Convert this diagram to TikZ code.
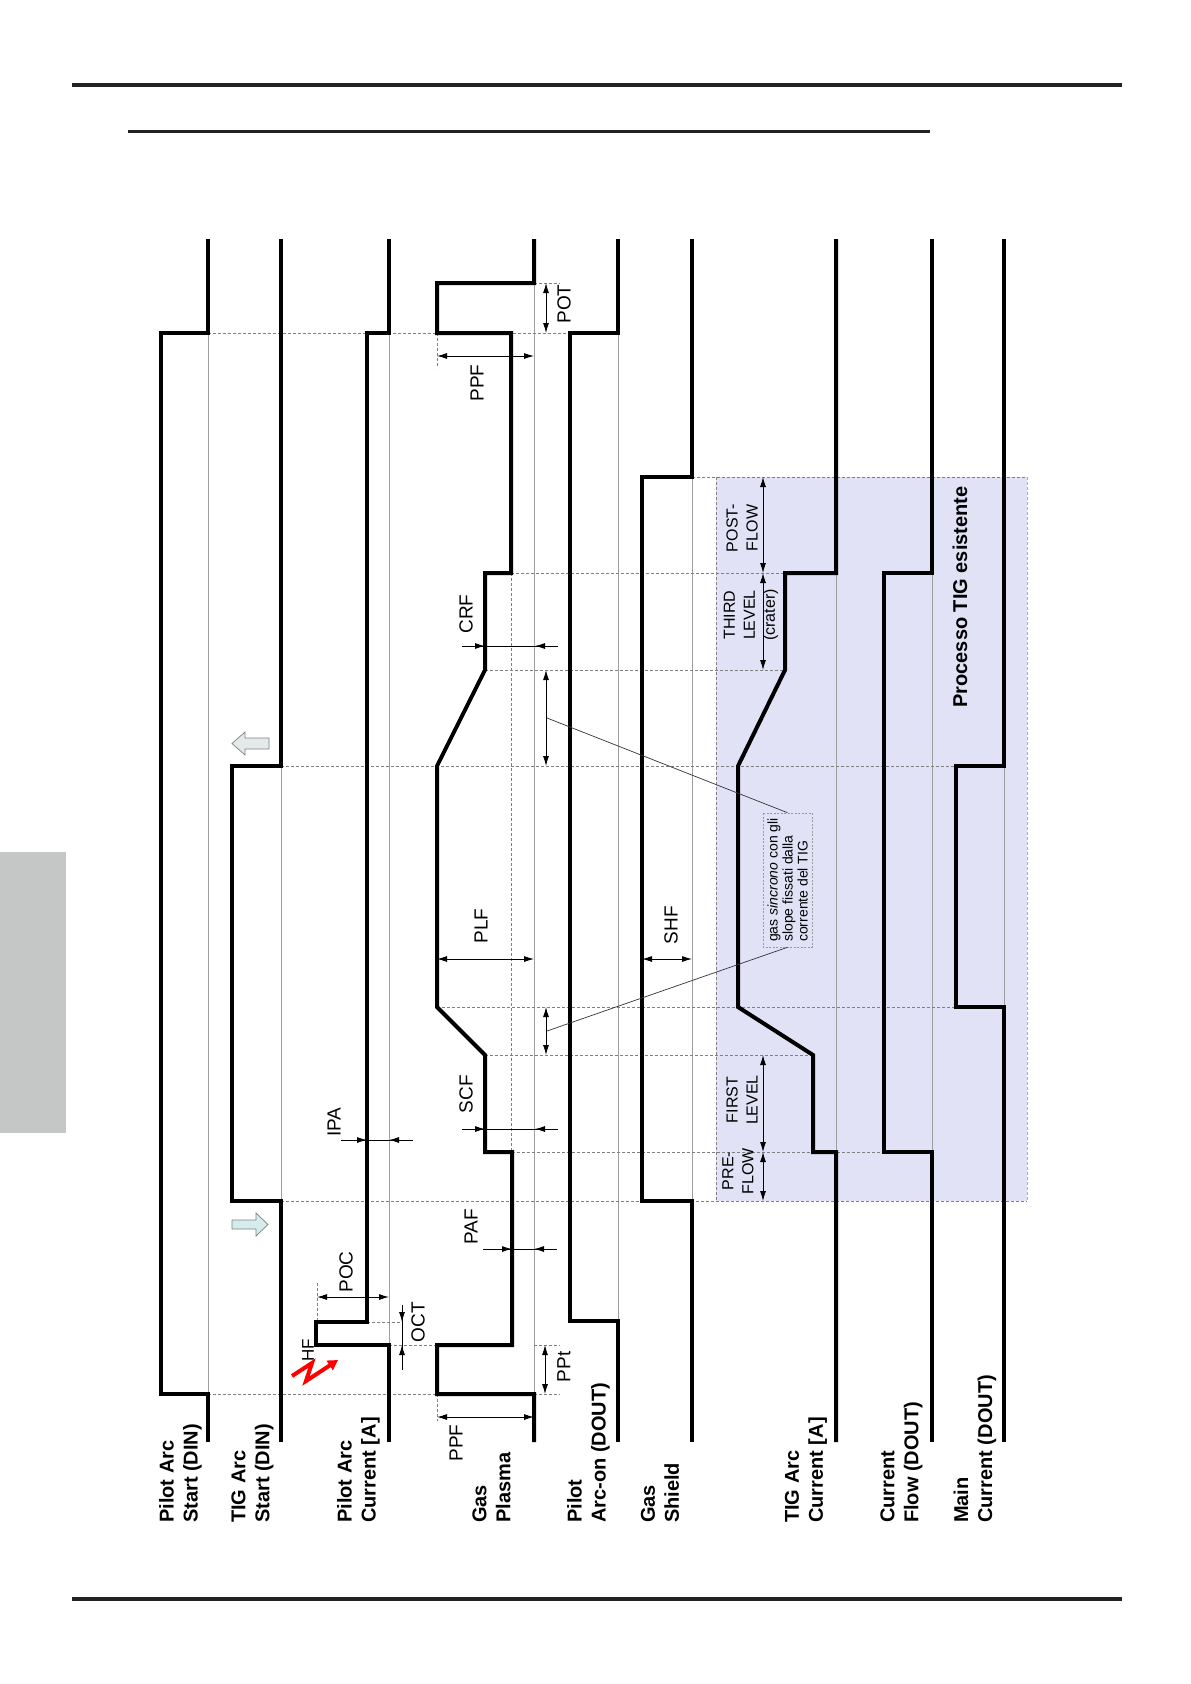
\documentclass[tikz,border=0pt]{standalone}
\usepackage{fontspec}
\setmainfont{Liberation Sans}
\usetikzlibrary{arrows.meta}
\definecolor{boxfill}{RGB}{226,226,246}
\definecolor{tabgray}{RGB}{197,199,199}
\definecolor{hdr}{RGB}{34,34,34}
\definecolor{arrcyan}{RGB}{212,236,236}
\definecolor{arrgray}{RGB}{228,234,234}
\begin{document}
\begin{tikzpicture}[x=1pt,y=-1pt,
  sig/.style={line width=4pt, line join=miter},
  base/.style={gray!75, line width=0.9pt},
  guide/.style={gray, line width=0.8pt, dash pattern=on 3pt off 2pt},
  dim/.style={line width=0.9pt, black},
  dimarr/.style={dim, -{Latex[length=10pt,width=6pt]}},
  dimboth/.style={dim, {Latex[length=10pt,width=6pt]}-{Latex[length=10pt,width=6pt]}},
  lab/.style={rotate=90, font=\fontsize{19}{22}\selectfont, inner sep=0pt},
  siglab/.style={rotate=90, anchor=west, align=left, font=\fontsize{20}{24}\selectfont\bfseries, inner sep=0pt},
  phase/.style={rotate=90, align=center, font=\fontsize{16}{20}\selectfont, inner sep=0pt},
  leader/.style={black!80, line width=0.7pt},
  hint/.style={draw=gray!70, line width=0.8pt, line join=miter}
]
\useasboundingbox (0,0) rectangle (1191,1684);
% page decorations
\fill[white] (0,0) rectangle (1191,1684);
\fill[hdr] (72,83) rectangle (1122,87);
\fill[hdr] (128,130) rectangle (930,132.5);
\fill[hdr] (72,1597) rectangle (1122,1601);
\fill[tabgray] (0,852) rectangle (66,1133);

% shaded TIG process region
\fill[boxfill] (716,477) rectangle (1027,1201);
\draw[guide] (716,477) -- (716,1201);
\draw[guide] (692,477) -- (1027,477);
\draw[red!45, line width=0.8pt, dash pattern=on 3pt off 2pt] (1027,477) -- (1027,1201);

% thin baselines
\draw[base] (208,333) -- (208,1394);
\draw[base] (281,766) -- (281,1201);
\draw[base] (389,333) -- (389,1345);
\draw[base] (534,283) -- (534,1394);
\draw[base] (618,333) -- (618,1321);
\draw[base] (692,477) -- (692,1201);
\draw[base] (836,573) -- (836,1152);
\draw[base] (932,573) -- (932,1152);
\draw[base] (1004,766) -- (1004,1007);

% dashed guides
\draw[guide] (208,333) -- (618,333);
\draw[guide] (534,283) -- (560,283);
\draw[guide] (511,573) -- (785,573);
\draw[guide] (485,670) -- (785,670);
\draw[guide] (281,766) -- (956,766);
\draw[guide] (437,1007) -- (956,1007);
\draw[guide] (485,1055) -- (813,1055);
\draw[guide] (512,1152) -- (884,1152);
\draw[guide] (281,1201) -- (1027,1201);
\draw[guide] (367,1322) -- (400,1322);
\draw[guide] (389,1345) -- (437,1345);
\draw[guide] (534,1345) -- (560,1345);
\draw[guide] (208,1394) -- (437,1394);
\draw[guide] (534,1394) -- (560,1394);
\draw[guide] (511,573) -- (511,1152);
\draw[guide] (437,333) -- (437,368);
\draw[guide] (437,1394) -- (437,1421);
\draw[guide] (317,1283) -- (317,1322);

% signals
\draw[sig] (208,1442) -- (208,1394) -- (161,1394) -- (161,333) -- (208,333) -- (208,239);
\draw[sig] (281,1442) -- (281,1201) -- (232,1201) -- (232,766) -- (281,766) -- (281,239);
\draw[sig] (389,1442) -- (389,1345) -- (316,1345) -- (316,1322) -- (367,1322) -- (367,333) -- (389,333) -- (389,239);
\draw[sig] (534,1442) -- (534,1394) -- (437,1394) -- (437,1345) -- (512,1345) -- (512,1152) -- (485,1152) -- (485,1055) -- (437,1007) -- (437,766) -- (485,670) -- (485,573) -- (511,573) -- (511,333) -- (437,333) -- (437,283) -- (534,283) -- (534,239);
\draw[sig] (618,1442) -- (618,1321) -- (570,1321) -- (570,333) -- (618,333) -- (618,239);
\draw[sig] (692,1442) -- (692,1201) -- (642,1201) -- (642,477) -- (692,477) -- (692,239);
\draw[sig] (836,1442) -- (836,1152) -- (813,1152) -- (813,1055) -- (738,1007) -- (738,766) -- (785,670) -- (785,573) -- (836,573) -- (836,239);
\draw[sig] (932,1442) -- (932,1152) -- (884,1152) -- (884,573) -- (932,573) -- (932,239);
\draw[sig] (1004,1442) -- (1004,1007) -- (956,1007) -- (956,766) -- (1004,766) -- (1004,239);

% signal labels
\node[siglab] (l1) at (180.5,1523) {Pilot Arc\\Start (DIN)};
\node[siglab] (l2) at (252.5,1523) {TIG Arc\\Start (DIN)};
\node[siglab] (l3) at (358.5,1523) {Pilot Arc\\Current [A]};
\node[siglab] (l4) at (491.5,1523) {Gas\\Plasma};
\node[siglab] (l5) at (588.5,1523) {Pilot\\Arc-on (DOUT)};
\node[siglab] (l6) at (660,1523) {Gas\\Shield};
\node[siglab] (l7) at (806,1523) {TIG Arc\\Current [A]};
\node[siglab] (l8) at (901.5,1523) {Current\\Flow (DOUT)};
\node[siglab] (l9) at (975,1523) {Main\\Current (DOUT)};

% dimensions
\draw[dimboth] (546,283) -- (546,333);
\node[lab] (tPOT) at (564,304) {POT};
\draw[dimboth] (437,356) -- (534,356);
\node[lab] (tPPF1) at (477,383) {PPF};
\draw[dim] (462,646) -- (558,646);
\draw[dimarr] (462,646) -- (485,646);
\draw[dimarr] (558,646) -- (535,646);
\node[lab] (tCRF) at (466,614) {CRF};
\draw[dimboth] (546,670) -- (546,766);
\draw[dimboth] (437,959) -- (534,959);
\node[lab] (tPLF) at (481,926) {PLF};
\draw[dimboth] (642,959) -- (692,959);
\node[lab] (tSHF) at (671,925) {SHF};
\draw[dimboth] (546,1007) -- (546,1055);
\draw[dim] (462,1129) -- (558,1129);
\draw[dimarr] (462,1129) -- (485,1129);
\draw[dimarr] (558,1129) -- (535,1129);
\node[lab] (tSCF) at (466,1094) {SCF};
\draw[dim] (341,1140) -- (413,1140);
\draw[dimarr] (341,1140) -- (367,1140);
\draw[dimarr] (413,1140) -- (389,1140);
\node[lab] (tIPA) at (334,1122) {IPA};
\draw[dim] (483,1249) -- (557,1249);
\draw[dimarr] (483,1249) -- (512,1249);
\draw[dimarr] (557,1249) -- (534,1249);
\node[lab] (tPAF) at (471,1227) {PAF};
\draw[dimboth] (317,1297) -- (389,1297);
\node[lab] (tPOC) at (346,1272) {POC};
\draw[dim] (402,1305) -- (402,1370);
\draw[dimarr] (402,1305) -- (402,1322);
\draw[dimarr] (402,1370) -- (402,1345);
\node[lab] (tOCT) at (418,1322) {OCT};
\draw[dimboth] (545,1345) -- (545,1394);
\node[lab] (tPPt) at (564,1367) {PPt};
\draw[dimboth] (437,1417) -- (534,1417);
\node[lab] (tPPF2) at (456,1443) {PPF};
\node[lab, font=\fontsize{17}{20}\selectfont] (tHF) at (308,1350) {HF};

% HF lightning bolt
\draw[red, line width=4pt, line join=miter, -{Triangle[length=10pt,width=11pt]}]
  (292,1376) -- (312,1363) -- (306,1381) -- (338,1360);

% TIG start/stop arrows
\filldraw[fill=arrcyan, draw=gray, line width=0.7pt]
  (232,1220) -- (256,1220) -- (256,1213) -- (268,1224.5) -- (256,1236) -- (256,1229) -- (232,1229) -- cycle;
\filldraw[fill=arrgray, draw=gray, line width=0.7pt]
  (269,738) -- (245,738) -- (245,732) -- (232,743.5) -- (245,755) -- (245,749) -- (269,749) -- cycle;

% phase dimensions in TIG region
\draw[dimboth] (763,477) -- (763,573);
\draw[dimboth] (763,573) -- (763,670);
\draw[dimboth] (763,1055) -- (763,1152);
\draw[dimboth] (763,1152) -- (763,1201);
\node[phase] (pPost) at (742,528) {POST-\\FLOW};
\node[phase] (pThird) at (751,615) {THIRD\\LEVEL\\(crater)};
\node[phase] (pFirst) at (742,1100) {FIRST\\LEVEL};
\node[phase] (pPre) at (738,1171) {PRE-\\FLOW};

\node[rotate=90, font=\fontsize{20}{24}\selectfont\bfseries, inner sep=0pt] (proc) at (960,597) {Processo TIG esistente};

% note box with leaders
\node[rotate=90, draw=gray!80, dash pattern=on 2pt off 1.5pt, line width=0.6pt, fill=boxfill,
      minimum width=134pt, minimum height=49pt, inner sep=3pt, align=left,
      font=\fontsize{14}{15}\selectfont] (note) at (787.5,880)
  {gas \textit{sincrono} con gli\\slope fissati dalla\\corrente del TIG};
\coordinate (slopeUp) at (547,718);
\coordinate (slopeDn) at (547,1031);
\draw[leader] (note.east) -- (slopeUp);
\draw[leader] (note.west) -- (slopeDn);
\end{tikzpicture}
\end{document}
